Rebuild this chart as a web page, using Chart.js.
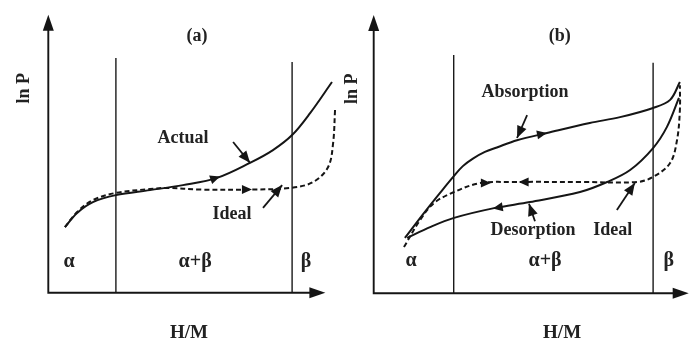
<!DOCTYPE html>
<html>
<head>
<meta charset="utf-8">
<script src="https://cdn.jsdelivr.net/npm/chart.js@4"></script>
<style>
  body { margin: 0; background: #fff; }
  #wrap { position: relative; width: 695px; height: 347px; }
  .panel { position: absolute; top: 0; }
</style>
</head>
<body>
<div id="wrap">
  <canvas id="chartA" class="panel" width="347" height="347" style="left:0"></canvas>
  <canvas id="chartB" class="panel" width="365" height="347" style="left:330px"></canvas>
</div>
<script>
// ---- data, panel (a): x = H/M (0-100 along axis), y = ln P (0-100 along axis)
const aActualX = [6.0, 10.4, 16.1, 24.4, 36.7, 48.6, 60.9, 72.8, 81.1, 88.0, 94.5, 102.4]
const aActualY = [23.6, 28.7, 32.6, 35.1, 36.9, 38.7, 41.3, 46.7, 51.3, 56.7, 64.6, 75.8]
const aIdealX = [6.0, 10.4, 16.1, 24.4, 36.7, 42.9, 54.8, 72.8, 87.3, 95.6, 101.0, 102.8, 103.5]
const aIdealY = [23.6, 29.0, 33.3, 35.9, 37.3, 37.7, 37.1, 37.1, 37.7, 39.8, 45.2, 53.8, 65.7]
const aBoundX = [24.4, 88.0]
const aBoundTop = [84.4, 83.0]

// ---- data, panel (b)
const bAbsX = [9.9, 16.0, 21.0, 25.5, 28.3, 31.5, 35.3, 39.1, 45.5, 55.0, 68.6, 78.2, 88.7, 94.1, 97.2]
const bAbsY = [19.9, 28.9, 36.0, 42.2, 45.7, 48.4, 50.8, 52.4, 55.0, 57.6, 61.2, 63.3, 66.6, 69.5, 75.9]
const bDesX = [10.6, 17.9, 25.5, 38.2, 49.6, 65.5, 74.1, 81.4, 88.7, 93.1, 96.9]
const bDesY = [19.9, 23.8, 27.1, 30.6, 32.8, 36.4, 40.0, 44.3, 52.2, 59.8, 70.2]
const bIdealX = [9.6, 14.7, 19.1, 25.5, 33.8, 44.5, 65.5, 83.6, 88.7, 94.1, 96.3, 97.2, 97.2]
const bIdealY = [16.6, 26.3, 32.4, 36.4, 39.6, 40.0, 40.0, 40.0, 41.8, 46.8, 55.1, 65.8, 74.8]
const bBoundX = [25.4, 88.7]
const bBoundTop = [85.6, 82.8]

const toPts = (xs, ys) => xs.map((x, i) => ({ x, y: ys[i] }))

function curve(xs, ys, dashed) {
    return {
        data: toPts(xs, ys),
        showLine: true,
        borderColor: '#151515',
        borderWidth: 2,
        borderDash: dashed ? [5, 3] : [],
        pointRadius: 0,
        tension: 0.35,
        clip: false
    }
}

function boundary(x, top) {
    return {
        data: [{ x, y: 0 }, { x, y: top }],
        showLine: true,
        borderColor: '#1a1a1a',
        borderWidth: 1.4,
        pointRadius: 0,
        clip: false
    }
}

function arrowHead(ctx, x1, y1, x2, y2, len, half) {
    const a = Math.atan2(y2 - y1, x2 - x1)
    ctx.beginPath()
    ctx.moveTo(x2, y2)
    ctx.lineTo(x2 - len * Math.cos(a) + half * Math.sin(a), y2 - len * Math.sin(a) - half * Math.cos(a))
    ctx.lineTo(x2 - len * Math.cos(a) - half * Math.sin(a), y2 - len * Math.sin(a) + half * Math.cos(a))
    ctx.closePath()
    ctx.fill()
}

// axes with arrows, direction marks, pointer arrows and labels
const schematic = {
    id: 'schematic',
    afterDatasetsDraw(chart, args, opts) {
        const { ctx } = chart
        const sx = chart.scales.x, sy = chart.scales.y
        const px = v => sx.getPixelForValue(v), py = v => sy.getPixelForValue(v)
        ctx.save()
        ctx.strokeStyle = '#151515'
        ctx.fillStyle = '#151515'

        // axes
        ctx.lineWidth = 1.9
        ctx.beginPath()
        ctx.moveTo(px(0), py(95))
        ctx.lineTo(px(0), py(0))
        ctx.lineTo(px(opts.xEnd - 4), py(0))
        ctx.stroke()
        arrowHead(ctx, px(0), py(50), px(0), py(opts.yEnd), 16, 5.5)
        arrowHead(ctx, px(50), py(0), px(opts.xEnd), py(0), 16, 5.5)

        // direction marks along curves
        opts.marks.forEach(m => arrowHead(ctx, px(m[0]), py(m[1]), px(m[2]), py(m[3]), 10, 4.5))

        // pointer arrows
        ctx.lineWidth = 1.8
        opts.pointers.forEach(p => {
            ctx.beginPath()
            ctx.moveTo(px(p[0]), py(p[1]))
            ctx.lineTo(px(p[2]), py(p[3]))
            ctx.stroke()
            arrowHead(ctx, px(p[0]), py(p[1]), px(p[2]), py(p[3]), 12, 5)
        })

        // labels
        ctx.fillStyle = '#222'
        ctx.textAlign = 'center'
        ctx.textBaseline = 'middle'
        opts.labels.forEach(l => {
            ctx.font = 'bold ' + (l[3] || 18) + 'px "Liberation Serif", "DejaVu Serif", serif'
            ctx.fillText(l[0], px(l[1]), py(l[2]))
        })
        ctx.save()
        ctx.translate(px(opts.yTitle[0]), py(opts.yTitle[1]))
        ctx.rotate(-Math.PI / 2)
        ctx.font = 'bold 18px "Liberation Serif", serif'
        ctx.fillText('ln P', 0, 0)
        ctx.restore()
        ctx.restore()
    }
}

function makeChart(id, datasets, padding, xMax, opts) {
    return new Chart(document.getElementById(id), {
        type: 'scatter',
        data: { datasets },
        options: {
            responsive: false,
            animation: false,
            events: [],
            layout: { padding },
            scales: {
                x: { type: 'linear', min: 0, max: xMax, display: false },
                y: { type: 'linear', min: 0, max: 100, display: false }
            },
            plugins: {
                legend: { display: false },
                tooltip: { enabled: false },
                schematic: opts
            }
        },
        plugins: [schematic]
    })
}

makeChart('chartA', [
    curve(aActualX, aActualY, false),
    curve(aIdealX, aIdealY, true),
    boundary(aBoundX[0], aBoundTop[0]),
    boundary(aBoundX[1], aBoundTop[1])
], { left: 48.3, right: 7.8, top: 14.7, bottom: 54.3 }, 105, {
    xEnd: 100, yEnd: 100,
    yTitle: [-8.6, 73.5],
    marks: [[57.5, 40.2, 62.0, 41.8], [68.5, 37.1, 73.5, 37.1]],
    pointers: [[66.7, 54.2, 72.8, 46.7], [77.5, 30.5, 84.4, 38.7]],
    labels: [
        ['(a)', 53.7, 92.2], ['Actual', 48.6, 55.6], ['Ideal', 66.3, 28.3],
        ['α', 7.5, 11.0, 20], ['α+β', 53.0, 11.0, 20], ['β', 93.0, 11.0, 20],
        ['H/M', 50.8, -14.5, 19]
    ]
})

makeChart('chartB', [
    curve(bAbsX, bAbsY, false),
    curve(bDesX, bDesY, false),
    curve(bIdealX, bIdealY, true),
    boundary(bBoundX[0], bBoundTop[0]),
    boundary(bBoundX[1], bBoundTop[1])
], { left: 43.7, right: 6.3, top: 15, bottom: 53.7 }, 100, {
    xEnd: 100, yEnd: 100,
    yTitle: [-6.8, 73.5],
    marks: [[50.5, 56.6, 55.0, 57.6], [33.0, 39.6, 37.2, 39.6], [50.5, 40.0, 46.0, 40.0], [42.0, 31.3, 37.8, 30.5]],
    pointers: [[48.7, 64.0, 45.5, 55.8], [51.2, 25.9, 49.3, 32.2], [77.2, 29.9, 82.9, 39.6]],
    labels: [
        ['(b)', 59.1, 92.3], ['Absorption', 48.0, 72.1], ['Desorption', 50.6, 22.7],
        ['Ideal', 75.9, 22.7],
        ['α', 11.9, 11.8, 20], ['α+β', 54.4, 11.8, 20], ['β', 93.7, 11.8, 20],
        ['H/M', 59.8, -14.3, 19]
    ]
})
</script>
</body>
</html>
